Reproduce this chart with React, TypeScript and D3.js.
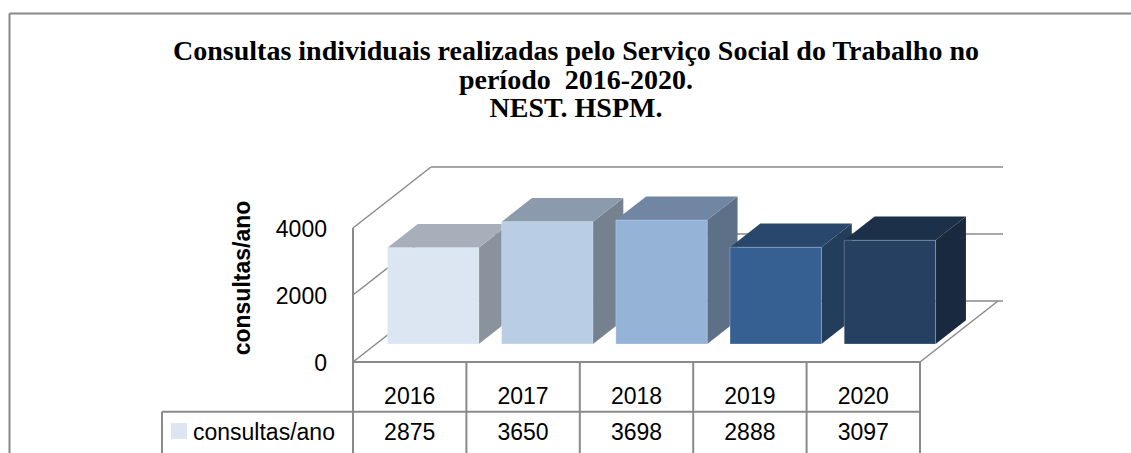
import React from "react";
import * as d3 from "d3";

const years = ["2016", "2017", "2018", "2019", "2020"];
const values = [2875, 3650, 3698, 2888, 3097];
const yTicks = [0, 2000, 4000];
const seriesName = "consultas/ano";
const titleLines = [
  "Consultas individuais realizadas pelo Serviço Social do Trabalho no",
  "período  2016-2020.",
  "NEST. HSPM.",
];
const frontColors = ["#DCE6F2", "#B9CDE5", "#95B3D7", "#376092", "#254061"];
const topColors = ["#A7AFBA", "#8B9AAC", "#7086A2", "#29476C", "#1D3049"];
const sideColors = ["#8A939D", "#76818F", "#5E7088", "#233D5D", "#19293E"];

const W = 1131;
const H = 453;
const GRID = "#8a8a8a";
const SANS = "'Liberation Sans', Arial, sans-serif";
const SERIF = "'Liberation Serif', 'Times New Roman', serif";

export default function App() {
  const x0 = 353;
  const x1 = 920;
  const yBase = 362;
  const yTop = 228;
  const DX = 78;
  const DY = -61;
  const zFront = 0.295;
  const zBack = 0.684;

  // table columns
  const xCol = d3.scaleBand<string>().domain(years).range([x0, x1]);
  // bars (slight perspective widening)
  const xBar = d3.scaleBand<string>().domain(years).range([x0, 924]).paddingInner(0.2).paddingOuter(0.1);
  const y = d3.scaleLinear().domain([0, 4000]).range([yBase, yTop]);

  const P = (px: number, v: number, z: number): [number, number] => [px + z * DX, y(v) + z * DY];
  const poly = (pts: [number, number][]) => pts.map((p) => p.join(",")).join(" ");

  const gridEndX = 1003;
  const tableRowY = 411.7;
  const legendX = 162;

  return (
    <div style={{ position: "absolute", left: 0, top: 0, width: W, height: H, overflow: "hidden" }}>
      <svg width={W} height={H} style={{ display: "block", background: "#fff" }} xmlns="http://www.w3.org/2000/svg">
        <rect x={0} y={0} width={W} height={H} fill="#fff" />
        {/* outer frame (left and top edges only visible) */}
        <line x1={9.5} y1={13.5} x2={9.5} y2={H} stroke="#888" strokeWidth={2} />
        <line x1={9.5} y1={13.5} x2={W} y2={13.5} stroke="#888" strokeWidth={2} />

        {/* title */}
        {titleLines.map((t, i) => (
          <text
            key={i}
            x={576}
            y={60 + i * 28.5}
            textAnchor="middle"
            fontFamily={SERIF}
            fontWeight="bold"
            fontSize={28}
            style={{ whiteSpace: "pre" }}
          >
            {t}
          </text>
        ))}

        {/* back wall gridlines & left wall diagonals */}
        {yTicks.map((t) => {
          const [bx, by] = P(x0, t, 1);
          const [fx, fy] = P(x0, t, 0);
          return (
            <g key={t}>
              <line x1={bx} y1={by} x2={gridEndX} y2={by} stroke={GRID} strokeWidth={1.5} />
              <line x1={fx} y1={fy} x2={bx} y2={by} stroke={GRID} strokeWidth={1.5} />
            </g>
          );
        })}
        {/* left wall vertical */}
        <line x1={x0} y1={y(4000)} x2={x0} y2={H} stroke={GRID} strokeWidth={2} />
        {/* floor right diagonal */}
        <line x1={x1} y1={yBase} x2={x1 + DX} y2={yBase + DY} stroke={GRID} strokeWidth={1.5} />

        {/* bars */}
        {values.map((v, i) => {
          const bx0 = xBar(years[i]) as number;
          const bx1 = bx0 + xBar.bandwidth();
          const fTL = P(bx0, v, zFront);
          const fTR = P(bx1, v, zFront);
          const fBR = P(bx1, 0, zFront);
          const fBL = P(bx0, 0, zFront);
          const bTL = P(bx0, v, zBack);
          const bTR = P(bx1, v, zBack);
          const bBR = P(bx1, 0, zBack);
          return (
            <g key={years[i]}>
              <polygon points={poly([fTR, bTR, bBR, fBR])} fill={sideColors[i]} />
              <polygon points={poly([fTL, bTL, bTR, fTR])} fill={topColors[i]} />
              <polygon
                points={poly([fTL, fTR, fBR, fBL])}
                fill={frontColors[i]}
                stroke="#ffffff"
                strokeOpacity={0.25}
                strokeWidth={1}
              />
            </g>
          );
        })}

        {/* y tick labels */}
        {yTicks.map((t) => (
          <text
            key={t}
            x={327}
            y={y(t) + 1}
            textAnchor="end"
            dominantBaseline="central"
            fontFamily={SANS}
            fontSize={23}
          >
            {t}
          </text>
        ))}
        {/* y axis title */}
        <text
          transform={`translate(242,278) rotate(-90)`}
          textAnchor="middle"
          dominantBaseline="central"
          fontFamily={SANS}
          fontWeight="bold"
          fontSize={23}
        >
          {seriesName}
        </text>

        {/* data table */}
        <line x1={x0} y1={yBase} x2={x1} y2={yBase} stroke={GRID} strokeWidth={2} />
        <line x1={legendX} y1={tableRowY} x2={x1} y2={tableRowY} stroke={GRID} strokeWidth={2} />
        <line x1={legendX} y1={tableRowY} x2={legendX} y2={H} stroke={GRID} strokeWidth={2} />
        {years.map((yr, i) => {
          const cx0 = xCol(yr) as number;
          const cx1 = cx0 + xCol.bandwidth();
          return (
            <g key={yr}>
              <line x1={cx1} y1={yBase} x2={cx1} y2={H} stroke={GRID} strokeWidth={2} />
              <text
                x={(cx0 + cx1) / 2}
                y={396}
                textAnchor="middle"
                dominantBaseline="central"
                fontFamily={SANS}
                fontSize={23}
              >
                {yr}
              </text>
              <text
                x={(cx0 + cx1) / 2}
                y={432}
                textAnchor="middle"
                dominantBaseline="central"
                fontFamily={SANS}
                fontSize={23}
              >
                {values[i]}
              </text>
            </g>
          );
        })}
        <rect x={171} y={423} width={16} height={16} fill={frontColors[0]} />
        <text x={193} y={432} dominantBaseline="central" fontFamily={SANS} fontSize={23}>
          {seriesName}
        </text>
      </svg>
    </div>
  );
}
